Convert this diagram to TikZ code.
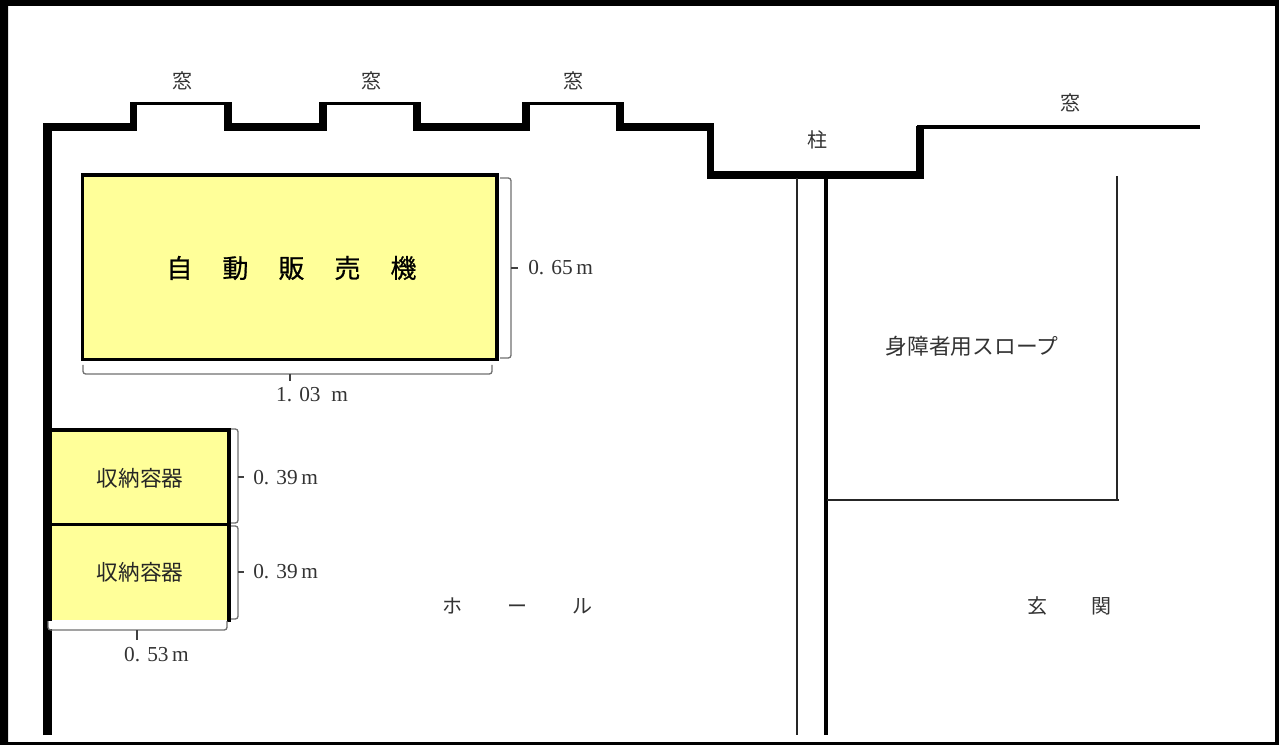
\documentclass[tikz,border=0pt]{standalone}
\usepackage{fontspec}
\setmainfont{Liberation Serif}
\newfontfamily\cjk{Noto Sans CJK JP}
\newfontfamily\cjkmid[FakeBold=0.7]{Noto Sans CJK JP}
\definecolor{boxyellow}{HTML}{FFFF99}
\definecolor{inkgray}{HTML}{333333}
\definecolor{bracegray}{HTML}{707070}
\tikzset{
  x=0.75pt,y=-0.75pt,
  wall/.style={line width=5.6pt,line cap=butt,line join=miter},
  thinwall/.style={line width=2.4pt,line join=miter},
  unit/.style={draw=black,line width=2.3pt,fill=boxyellow,line join=miter},
  hairline/.style={line width=1.5pt,black!85},
  bracket/.style={draw=bracegray,line width=1pt,rounded corners=2pt},
  ticker/.style={draw=black!75,line width=1pt},
  lab/.style={font=\cjk\fontsize{15}{15}\selectfont,text=inkgray,inner sep=0pt},
  boxlab/.style={font=\cjk\fontsize{16.2}{16.2}\selectfont,text=black!85,inner sep=0pt},
  dim/.style={font=\fontsize{16}{16}\selectfont,text=inkgray,inner sep=0pt,anchor=west},
}
\begin{document}
\begin{tikzpicture}
\useasboundingbox (0,0) rectangle (1279,745);
% outer frame
\fill[black,even odd rule] (0,0) rectangle (1279,745) (8,6) rectangle (1275,742);
% boxes
\path[fill=boxyellow] (51,430) rectangle (228,620);
\draw[unit,fill=none] (50,430) -- (229,430) -- (229,622);
\draw[line width=2.3pt] (50,524.5) -- (229,524.5);
\draw[unit] (82.7,175) rectangle (497,359.5);
% walls
\draw[line width=6.2pt] (47.5,735) -- (47.5,123);
\draw[wall] (43.3,127) -- (133.7,127);
\draw[wall] (228,127) -- (323,127);
\draw[wall] (417,127) -- (526,127);
\draw[wall] (620,127) -- (710.5,127) -- (710.5,175) -- (920,175) -- (920,126);
\draw[wall] (133.7,130.7) -- (133.7,102);
\draw[wall] (228,130.7) -- (228,102);
\draw[wall] (323,130.7) -- (323,102);
\draw[wall] (417,130.7) -- (417,102);
\draw[wall] (526,130.7) -- (526,102);
\draw[wall] (620,130.7) -- (620,102);
\draw[thinwall] (130,103.3) -- (231.7,103.3);
\draw[thinwall] (319.3,103.3) -- (420.7,103.3);
\draw[thinwall] (522.3,103.3) -- (623.7,103.3);
\draw[thinwall] (917,127) -- (1200,127);
% white band under the boxes
\fill[white] (48,620.5) rectangle (227,629);
% interior lines
\draw[hairline] (797,178) -- (797,735);
\draw[line width=3pt] (825.5,178) -- (825.5,735);
\draw[hairline] (1117,176) -- (1117,501);
\draw[hairline] (827,500) -- (1119,500);
% dimension brackets
\draw[bracket] (83,365) -- (83,374) -- (492,374) -- (492,365);
\draw[ticker] (290,374) -- (290,381);
\draw[bracket] (500,178) -- (511,178) -- (511,358) -- (500,358);
\draw[ticker] (511,268) -- (518,268);
\draw[bracket] (231,429) -- (238,429) -- (238,523) -- (231,523);
\draw[ticker] (238,477) -- (244,477);
\draw[bracket] (231,526) -- (238,526) -- (238,619) -- (231,619);
\draw[ticker] (238,572) -- (244,572);
\draw[bracket] (48,621) -- (48,630) -- (227,630) -- (227,621);
\draw[ticker] (137,630) -- (137,640);
% window and pillar labels
\node[lab] (w1) at (182,81) {窓};
\node[lab] (w2) at (371,81) {窓};
\node[lab] (w3) at (573,81) {窓};
\node[lab] (w4) at (1070,103) {窓};
\node[lab] (pillar) at (817,140) {柱};
% unit labels
\node[font=\cjkmid\fontsize{19.5}{19.5}\selectfont,inner sep=0pt] (vend) at (291.5,268) {自\hspace{22.5pt}動\hspace{22.5pt}販\hspace{22.5pt}売\hspace{22.5pt}機};
\node[boxlab] (s1) at (140,478) {収納容器};
\node[boxlab] (s2) at (140,572) {収納容器};
% dimensions
\node[dim] (d1) at (528,268) {0.\,\,65\,m};
\node[dim] (d2) at (253,478) {0.\,\,39\,m};
\node[dim] (d3) at (253,572) {0.\,\,39\,m};
\node[dim,anchor=center] (d4) at (312,395) {1.\,\,03\,\,\,m};
\node[dim,anchor=center] (d5) at (156.5,655) {0.\,\,53\,m};
% room labels
\node[font=\cjk\fontsize{16.3}{16.3}\selectfont,text=inkgray,inner sep=0pt] (slope) at (972,346) {身障者用スロープ};
\node[lab] (hall) at (517.5,606) {ホ\hspace{33.5pt}ー\hspace{33.5pt}ル};
\node[lab] (ent) at (1069.5,606) {玄\hspace{33.5pt}関};
\end{tikzpicture}
\end{document}
